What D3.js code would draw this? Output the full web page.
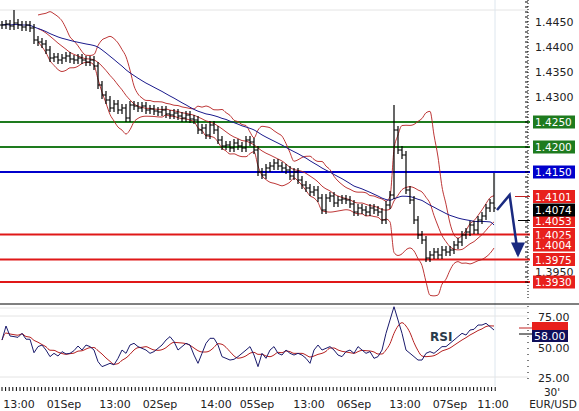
<!DOCTYPE html><html><head><meta charset="utf-8">
<script src="https://cdn.jsdelivr.net/npm/d3@7"></script>
<style>body{margin:0;background:#fff}text{font-family:"DejaVu Sans",Verdana,sans-serif}</style></head><body>
<svg id="c" width="579" height="411"></svg>
<script>
const closes=[1.4444,1.4446,1.4442,1.4448,1.4444,1.4440,1.4444,1.4438,1.4414,1.4410,1.4406,1.4394,1.4378,1.4380,1.4374,1.4378,1.4382,1.4376,1.4374,1.4378,1.4374,1.4370,1.4374,1.4362,1.4324,1.4304,1.4294,1.4278,1.4286,1.4274,1.4278,1.4258,1.4284,1.4282,1.4278,1.4282,1.4274,1.4276,1.4272,1.4270,1.4274,1.4266,1.4264,1.4268,1.4262,1.4258,1.4264,1.4256,1.4254,1.4234,1.4238,1.4224,1.4244,1.4234,1.4214,1.4202,1.4204,1.4198,1.4208,1.4202,1.4198,1.4214,1.4210,1.4194,1.4150,1.4144,1.4158,1.4162,1.4168,1.4162,1.4158,1.4154,1.4142,1.4150,1.4134,1.4124,1.4118,1.4110,1.4114,1.4098,1.4074,1.4098,1.4102,1.4088,1.4094,1.4096,1.4094,1.4086,1.4070,1.4078,1.4074,1.4070,1.4078,1.4074,1.4070,1.4054,1.4084,1.4104,1.4234,1.4194,1.4184,1.4114,1.4094,1.4054,1.4024,1.4014,1.3978,1.3984,1.3990,1.3984,1.3994,1.3990,1.3994,1.4004,1.4010,1.4024,1.4030,1.4044,1.4034,1.4054,1.4062,1.4078,1.4088,1.4078];
const spikeHighs={3:1.4474,98:1.4284,123:1.4148};
const rsiValues=[55.3,66.8,58.6,58.1,57.5,60.8,56,55.9,44.9,49.9,51.2,47.1,41.7,44.4,42.2,45.8,43.9,44.4,46.6,50.4,47.1,51.2,49.9,47.1,37.6,33.5,34.8,36.2,35,40.3,47.1,44.4,51.2,52.6,49.9,48.5,47.1,44.4,45.8,48.5,51.2,55.3,58.1,54,47.1,49.9,52.6,51.2,43,36.2,44.4,52.6,56.7,56.7,51.2,41.7,40.3,38.9,39.5,41.7,44.4,47.1,49.9,43,33.5,44.4,40.3,47.1,49.9,44.4,43,47.1,44.4,43,44.4,43,40.3,36.2,47.1,51.2,47.1,48.5,49.9,47.1,43,41.7,45.8,47.1,44.4,49.9,47.1,44.4,45.8,40.3,41.7,47.1,60.8,71.7,82.6,71.7,60.8,47.1,44.4,41.7,38.9,38.9,44.4,45.8,44.4,47.1,49.9,49.9,52.6,55.3,58.1,60.8,59.4,63.5,64.1,67.6,67.6,69,66.3,63.5];
const greenLevels=[1.4250,1.4200];
const blueLevels=[1.4150];
const redLevels=[1.4025,1.3975,1.3930];
const priceTicks=[1.4450,1.4400,1.4350,1.4300,1.3950];
const sideLabels=[[1.4101,"#e8201c"],[1.4053,"#e8201c"],[1.4025,"#e8201c"],[1.4004,"#e8201c"],[1.3975,"#e8201c"],[1.3930,"#e8201c"],[1.4074,"#000"]];
const timeLabels=[["13:00",19],["01Sep",64],["13:00",115],["02Sep",160],["14:00",216],["05Sep",257],["13:00",309],["06Sep",354],["13:00",405],["07Sep",450],["11:00",493]];
const rsiTicks=[75,50,25];
const arrowPath=[[0,1.4074],[6,1.4104],[10,1.3985]];

const svg=d3.select("#c");
const x=d3.scaleLinear().domain([0,closes.length-1]).range([2,494]);
const xr=d3.scaleLinear().domain([0,rsiValues.length-1]).range([2,494]);
const y=d3.scaleLinear().domain([1.4494,1.3930]).range([0,282]);
const yr=d3.scaleLinear().domain([25,75]).range([377,316]);
function sma(a,n){return a.map((_,i)=>i<n-1?null:d3.mean(a.slice(i-n+1,i+1)));}
const bbN=10, mid=sma(closes,bbN);
const up=mid.map((m,i)=>m==null?null:m+2*d3.deviation(closes.slice(i-bbN+1,i+1)));
const lo=mid.map((m,i)=>m==null?null:m-2*d3.deviation(closes.slice(i-bbN+1,i+1)));
const ma=closes.map((_,i)=>d3.mean(closes.slice(Math.max(0,i-24),i+1)));
const rsiS=rsiValues.map((_,i)=>d3.mean(rsiValues.slice(Math.max(0,i-4),i+1)));
svg.append("line").attr("x1",0).attr("x2",528).attr("y1",10).attr("y2",10).attr("stroke","#e4e4e4");
svg.append("line").attr("x1",495).attr("x2",495).attr("y1",0).attr("y2",386).attr("stroke","#dde6ee");
[75,25].forEach(v=>svg.append("line").attr("x1",0).attr("x2",528).attr("y1",yr(v)).attr("y2",yr(v)).attr("stroke","#e4e4e4"));
svg.append("line").attr("x1",0).attr("x2",528).attr("y1",308).attr("y2",308).attr("stroke","#e4e4e4");
svg.append("line").attr("x1",0).attr("x2",579).attr("y1",304).attr("y2",304).attr("stroke","#000");
const lvl=(arr,col)=>arr.forEach(v=>svg.append("line").attr("x1",0).attr("x2",530).attr("y1",y(v)).attr("y2",y(v)).attr("stroke",col).attr("stroke-width",2));
lvl(greenLevels,"#1e7b1e");lvl(blueLevels,"#0000cc");lvl(redLevels,"#e01818");
const ln=(a,sc,xs)=>d3.line().defined(d=>d!=null).x((d,i)=>xs(i)).y(d=>sc(d)).curve(d3.curveMonotoneX)(a);
[up,lo,mid].forEach(a=>svg.append("path").attr("d",ln(a,y,x)).attr("fill","none").attr("stroke","#b52020").attr("stroke-width",0.9));
svg.append("path").attr("d",ln(ma,y,x)).attr("fill","none").attr("stroke","#1a1a8c").attr("stroke-width",1);
closes.forEach((c,i)=>{const o=i?closes[i-1]:c;const hi=spikeHighs[i]||Math.max(o,c)+0.0008,l=Math.min(o,c)-0.0008,xi=x(i);
 svg.append("line").attr("x1",xi).attr("x2",xi).attr("y1",y(hi)).attr("y2",y(l)).attr("stroke","#000").attr("stroke-width",1.2);
 svg.append("line").attr("x1",xi-2).attr("x2",xi).attr("y1",y(o)).attr("y2",y(o)).attr("stroke","#000");
 svg.append("line").attr("x1",xi).attr("x2",xi+2).attr("y1",y(c)).attr("y2",y(c)).attr("stroke","#000");});
const ax=d=>x(closes.length-1)+3+d[0]*2.1;
svg.append("path").attr("d",d3.line().x(ax).y(d=>y(d[1]))(arrowPath)).attr("fill","none").attr("stroke","#1a2a80").attr("stroke-width",2.5);
const ex=ax(arrowPath[2]),ey=y(arrowPath[2][1]);
svg.append("path").attr("d",`M${ex-7},${ey-12}L${ex+7},${ey-12}L${ex},${ey+3}Z`).attr("fill","#1a2a80");
svg.append("line").attr("x1",528).attr("x2",528).attr("y1",0).attr("y2",300).attr("stroke","#000").attr("stroke-dasharray","1,2");
d3.range(1.3930,1.4500,0.001).forEach(v=>svg.append("line").attr("x1",525).attr("x2",528).attr("y1",y(v)).attr("y2",y(v)).attr("stroke","#000"));
priceTicks.forEach(v=>svg.append("text").attr("x",535).attr("y",y(v)+4).attr("font-size",11).attr("fill","#222").text(v.toFixed(4)));
const box=(v,col,yy)=>{const g=svg.append("g");g.append("rect").attr("x",533).attr("y",yy-6.5).attr("width",42).attr("height",13).attr("fill",col);
 g.append("text").attr("x",535).attr("y",yy+4).attr("font-size",10.5).attr("fill","#fff").text(v.toFixed(4));};
greenLevels.forEach(v=>box(v,"#1e7b1e",y(v)));blueLevels.forEach(v=>box(v,"#0000cc",y(v)));
sideLabels.forEach(d=>box(d[0],d[1],y(d[0])));
svg.append("line").attr("x1",515).attr("x2",530).attr("y1",y(1.4101)).attr("y2",y(1.4101)).attr("stroke","#c02020");
svg.append("line").attr("x1",518).attr("x2",530).attr("y1",y(1.4053)).attr("y2",y(1.4053)).attr("stroke","#000");
svg.append("path").attr("d",ln(rsiS,yr,xr)).attr("fill","none").attr("stroke","#b52020").attr("stroke-width",1);
svg.append("path").attr("d",d3.line().x((d,i)=>xr(i)).y(d=>yr(d))(rsiValues)).attr("fill","none").attr("stroke","#1a1a6c").attr("stroke-width",1);
svg.append("text").attr("x",430).attr("y",341).attr("font-size",12).attr("font-weight","bold").attr("fill","#2a3a4a").text("RSI");
svg.append("line").attr("x1",528).attr("x2",528).attr("y1",306).attr("y2",380).attr("stroke","#000").attr("stroke-dasharray","1,5");
rsiTicks.forEach(v=>svg.append("text").attr("x",538).attr("y",yr(v)+5).attr("font-size",11).attr("fill","#222").text(v.toFixed(2)));
svg.append("rect").attr("x",532).attr("y",322).attr("width",36).attr("height",9).attr("fill","#e8201c");
svg.append("rect").attr("x",532).attr("y",330).attr("width",36).attr("height",12).attr("fill","#10105a");
svg.append("text").attr("x",534).attr("y",340).attr("font-size",11).attr("fill","#fff").text("58.00");
svg.append("line").attr("x1",519).attr("x2",532).attr("y1",328).attr("y2",328).attr("stroke","#c02020");
svg.append("line").attr("x1",519).attr("x2",532).attr("y1",334).attr("y2",334).attr("stroke","#000");
d3.range(2,496,3.6).forEach(v=>svg.append("line").attr("x1",v).attr("x2",v).attr("y1",387).attr("y2",391).attr("stroke","#000"));
timeLabels.forEach(d=>svg.append("text").attr("x",d[1]).attr("y",408).attr("text-anchor","middle").attr("font-size",11).attr("fill","#222").text(d[0]));
svg.append("text").attr("x",552).attr("y",396).attr("text-anchor","middle").attr("font-size",10.5).attr("fill","#222").text("30'");
svg.append("text").attr("x",553).attr("y",408).attr("text-anchor","middle").attr("font-size",10.5).attr("fill","#222").text("EUR/USD");
</script></body></html>
